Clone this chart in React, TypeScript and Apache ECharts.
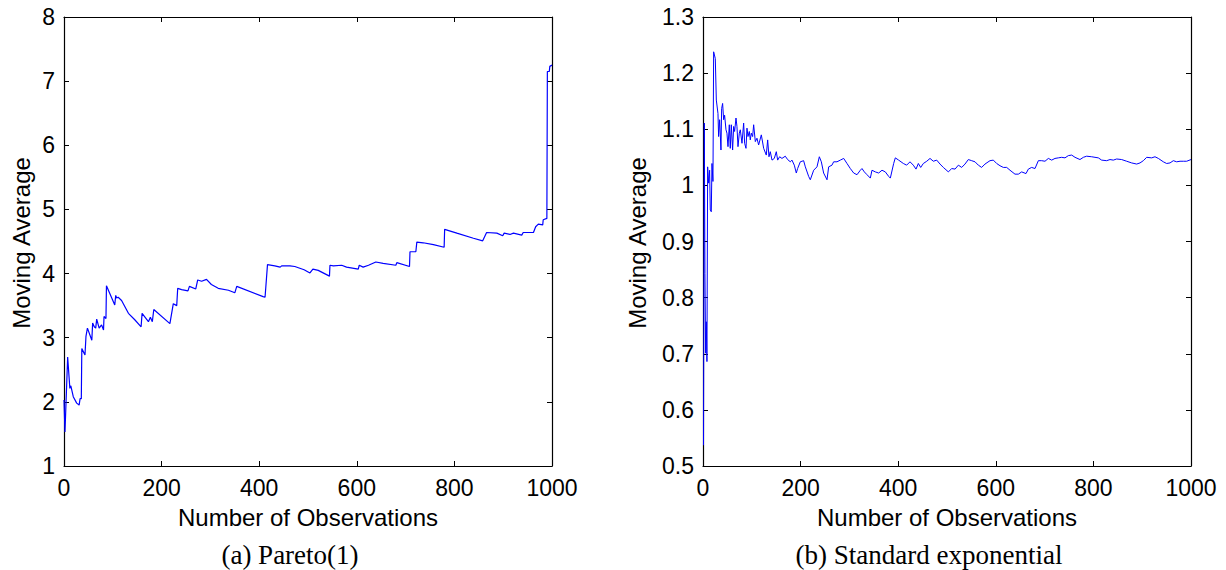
import React, { useEffect, useRef } from "react";
import * as echarts from "echarts";

// Observation counts used as x-axis ticks
const xTicks = [0, 200, 400, 600, 800, 1000];

// (a) Pareto(1) moving average: [observations, average]
const paretoPoints: [number, number][] = [
  [0, 2.03], [2, 1.53], [7.5, 2.7], [12, 2.21], [14, 2.25], [19, 2.08], [26, 1.98], [31, 1.95],
  [33, 2.05], [35.5, 2.05], [36.5, 2.83], [43, 2.73], [45, 3.02], [48, 3.15], [57, 2.96],
  [58.7, 3.23], [62, 3.17], [65, 3.15], [67, 3.29], [72, 3.15], [77, 3.2], [81, 3.12],
  [82, 3.33], [86, 3.3], [87, 3.81], [104, 3.51], [106, 3.66], [108, 3.62], [111, 3.63],
  [118, 3.58], [132, 3.38], [145, 3.28], [158, 3.17], [160, 3.38], [173, 3.25], [177, 3.32],
  [181, 3.25], [184, 3.44], [217, 3.22], [224, 3.53], [231, 3.5], [233, 3.77], [241, 3.75],
  [254, 3.73], [257, 3.8], [270, 3.76], [274, 3.9], [282, 3.88], [292, 3.91], [302, 3.83],
  [316, 3.77], [337, 3.74], [350, 3.7], [354, 3.8], [408, 3.64], [412, 3.63], [417, 4.14],
  [432, 4.12], [443, 4.1], [446, 4.12], [463, 4.12], [473, 4.11], [492, 4.06], [504, 4.01],
  [510, 4.07], [521, 4.05], [544, 3.96], [545, 4.13], [552, 4.12], [569, 4.13], [579, 4.1],
  [603, 4.07], [605, 4.13], [613, 4.1], [624, 4.13], [639, 4.18], [654, 4.16], [680, 4.13],
  [682, 4.17], [708, 4.11], [709, 4.34], [721, 4.34], [723, 4.49], [736, 4.48], [757, 4.45],
  [779, 4.41], [780, 4.69], [805, 4.63], [839, 4.55], [858, 4.51], [866, 4.64], [887, 4.63],
  [899, 4.59], [902, 4.63], [914, 4.61], [921, 4.63], [938, 4.6], [941, 4.64], [962, 4.64],
  [966.5, 4.73], [972, 4.77], [981, 4.76], [982, 4.84], [989.5, 4.86], [990.5, 7.15],
  [994.5, 7.15], [995.5, 7.23], [1000, 7.25],
];

// (b) Standard exponential moving average
const expPoints: [number, number][] = [
  [1, 0.537], [2.7, 1.111], [4, 0.843], [5.4, 0.701], [6.8, 0.757], [8.1, 0.686], [9.5, 1.033],
  [11.5, 1.004], [13.6, 1.027], [14.9, 0.956], [17, 0.953], [18.4, 1.039], [20.4, 1.007],
  [21.8, 1.238], [25.2, 1.226], [27.3, 1.152], [30.7, 1.128], [32, 1.087], [34.1, 1.117],
  [36.8, 1.063], [38.2, 1.137], [40.2, 1.146], [42.3, 1.117], [44.3, 1.125], [47.1, 1.099],
  [49.1, 1.093], [51.2, 1.069], [53.9, 1.108], [55.9, 1.066], [58, 1.108], [60.7, 1.063],
  [62.8, 1.105], [64.8, 1.096], [67.6, 1.12], [69.6, 1.105], [71.7, 1.069], [74.4, 1.093],
  [76.4, 1.099], [79.9, 1.075], [83.3, 1.111], [85.3, 1.075], [88.1, 1.066], [90.1, 1.102],
  [92.2, 1.087], [94.9, 1.096], [96.9, 1.081], [99, 1.093], [101.7, 1.087], [103.8, 1.108],
  [107.2, 1.078], [110.6, 1.084], [114, 1.072], [119.5, 1.09], [124.3, 1.066], [129.7, 1.054],
  [132.5, 1.081], [135.2, 1.051], [137.9, 1.06], [141.4, 1.045], [146.1, 1.048], [150.2, 1.06],
  [153, 1.045], [157, 1.051], [161.8, 1.048], [168.6, 1.052], [173.4, 1.046], [178.9, 1.042],
  [182.3, 1.045], [187.1, 1.036], [191.2, 1.022], [193.9, 1.03], [199.4, 1.042], [206.2, 1.044],
  [209.7, 1.033], [216.5, 1.016], [219.9, 1.01], [226.8, 1.027], [233.6, 1.033], [238.4, 1.051],
  [242.5, 1.042], [247.2, 1.022], [254.1, 1.01], [257.5, 1.033], [264.3, 1.036], [267.7, 1.042],
  [274.6, 1.042], [281.4, 1.045], [288.3, 1.048], [295.1, 1.039], [301.9, 1.03], [308.8, 1.022],
  [315.6, 1.019], [322.4, 1.027], [325.8, 1.03], [330.6, 1.024], [336.1, 1.019], [342.9, 1.013],
  [346.3, 1.027], [353.1, 1.024], [360, 1.022], [366.8, 1.027], [373.6, 1.024], [380.5, 1.016],
  [383.9, 1.013], [390.7, 1.039], [394.1, 1.049], [400.9, 1.045], [410.6, 1.039], [417.3, 1.036],
  [424.2, 1.042], [431, 1.036], [436.5, 1.029], [441.3, 1.039], [446.1, 1.032], [451.5, 1.039],
  [458.5, 1.043], [465.2, 1.048], [472, 1.043], [478.9, 1.045], [485.7, 1.038], [492.5, 1.032],
  [502.8, 1.024], [509.6, 1.03], [516.5, 1.029], [523.3, 1.036], [530.1, 1.032], [536.9, 1.038],
  [543.7, 1.046], [550.6, 1.044], [557.4, 1.042], [564.2, 1.036], [571, 1.032], [577.9, 1.038],
  [588.1, 1.044], [594.9, 1.045], [601.8, 1.039], [608.6, 1.035], [615.4, 1.032], [622.3, 1.032],
  [629.1, 1.027], [639.3, 1.02], [646.2, 1.02], [653, 1.024], [661.9, 1.021], [666.7, 1.029],
  [673.5, 1.032], [680.3, 1.03], [687.2, 1.044], [694, 1.044], [700.8, 1.043], [707.7, 1.048],
  [714.5, 1.045], [721.3, 1.048], [728.1, 1.049], [735, 1.05], [741.8, 1.049], [748.6, 1.053],
  [755.5, 1.054], [762.3, 1.05], [772.5, 1.046], [779.4, 1.05], [786.2, 1.052], [796.4, 1.051],
  [803.3, 1.05], [810.1, 1.049], [816.9, 1.045], [827.2, 1.044], [834, 1.046], [840.8, 1.045],
  [847.7, 1.047], [857.9, 1.046], [868.2, 1.043], [878.4, 1.04], [888.7, 1.038], [895.5, 1.04],
  [902.3, 1.044], [909.2, 1.05], [919.4, 1.049], [926.2, 1.051], [933.1, 1.048], [943.3, 1.042],
  [950.1, 1.039], [957, 1.04], [963.8, 1.044], [970.6, 1.042], [977.5, 1.043], [984.3, 1.043],
  [991.1, 1.043], [1000, 1.046],
];

const paretoYRange = [1, 8];
const expYRange = [0.5, 1.3];

const SANS = "'Liberation Sans', Arial, Helvetica, sans-serif";
const SERIF = "'Liberation Serif', 'Times New Roman', serif";
const TICK_FONT = 23;

function axisBase(showLabel: boolean) {
  return {
    type: "value" as const,
    axisLine: { show: true, onZero: false, lineStyle: { color: "#000", width: 1.2 } },
    axisTick: { show: true, inside: true, length: 5, lineStyle: { color: "#000", width: 1 } },
    splitLine: { show: false },
    axisLabel: {
      show: showLabel,
      color: "#000",
      fontSize: TICK_FONT,
      fontFamily: SANS,
      showMinLabel: true,
      showMaxLabel: true,
      formatter: (v: number) => String(parseFloat(v.toFixed(1))),
    },
  };
}

export default function App() {
  const ref = useRef<HTMLDivElement>(null);

  useEffect(() => {
    document.body.style.margin = "0";
    if (!ref.current) return;
    const chart = echarts.init(ref.current, undefined, { renderer: "svg" });
    const grids = [
      { left: 64, top: 17, width: 488, height: 449 },
      { left: 703, top: 17, width: 488, height: 449 },
    ];
    const xStep = xTicks[1] - xTicks[0];
    const xMin = xTicks[0];
    const xMax = xTicks[xTicks.length - 1];

    const xAxes: any[] = [];
    const yAxes: any[] = [];
    [0, 1].forEach((g) => {
      const yr = g === 0 ? paretoYRange : expYRange;
      const yInt = g === 0 ? 1 : 0.1;
      xAxes.push({ ...axisBase(true), gridIndex: g, position: "bottom", min: xMin, max: xMax, interval: xStep,
        axisLabel: { ...axisBase(true).axisLabel, margin: 10 } });
      xAxes.push({ ...axisBase(false), gridIndex: g, position: "top", min: xMin, max: xMax, interval: xStep });
      yAxes.push({ ...axisBase(true), gridIndex: g, position: "left", min: yr[0], max: yr[1], interval: yInt,
        axisLabel: { ...axisBase(true).axisLabel, margin: 9 } });
      yAxes.push({ ...axisBase(false), gridIndex: g, position: "right", min: yr[0], max: yr[1], interval: yInt });
    });

    const centers = [64 + 244, 703 + 244];
    const captionCenters = [290, 929];
    const texts: any[] = [];
    const yNameX = [21.5, 637.5];
    const captions = ["(a) Pareto(1)", "(b) Standard exponential"];
    [0, 1].forEach((g) => {
      texts.push({
        type: "text", x: yNameX[g], y: 243, rotation: Math.PI / 2,
        style: { text: "Moving Average", font: `24px ${SANS}`, fill: "#000", align: "center", verticalAlign: "middle" },
      });
      texts.push({
        type: "text", x: centers[g], y: 517,
        style: { text: "Number of Observations", font: `24px ${SANS}`, fill: "#000", align: "center", verticalAlign: "middle" },
      });
      texts.push({
        type: "text", x: captionCenters[g], y: 555,
        style: { text: captions[g], font: `27px ${SERIF}`, fill: "#000", align: "center", verticalAlign: "middle" },
      });
    });

    chart.setOption({
      animation: false,
      backgroundColor: "#fff",
      grid: grids,
      xAxis: xAxes,
      yAxis: yAxes,
      graphic: texts,
      series: [
        {
          type: "line", xAxisIndex: 0, yAxisIndex: 0, data: paretoPoints, showSymbol: false,
          lineStyle: { color: "#0000ff", width: 1.2 }, clip: true,
        },
        {
          type: "line", xAxisIndex: 2, yAxisIndex: 2, data: expPoints, showSymbol: false,
          lineStyle: { color: "#0000ff", width: 1 }, clip: true,
        },
      ],
    });
    return () => chart.dispose();
  }, []);

  return <div ref={ref} style={{ width: 1226, height: 570 }} />;
}
